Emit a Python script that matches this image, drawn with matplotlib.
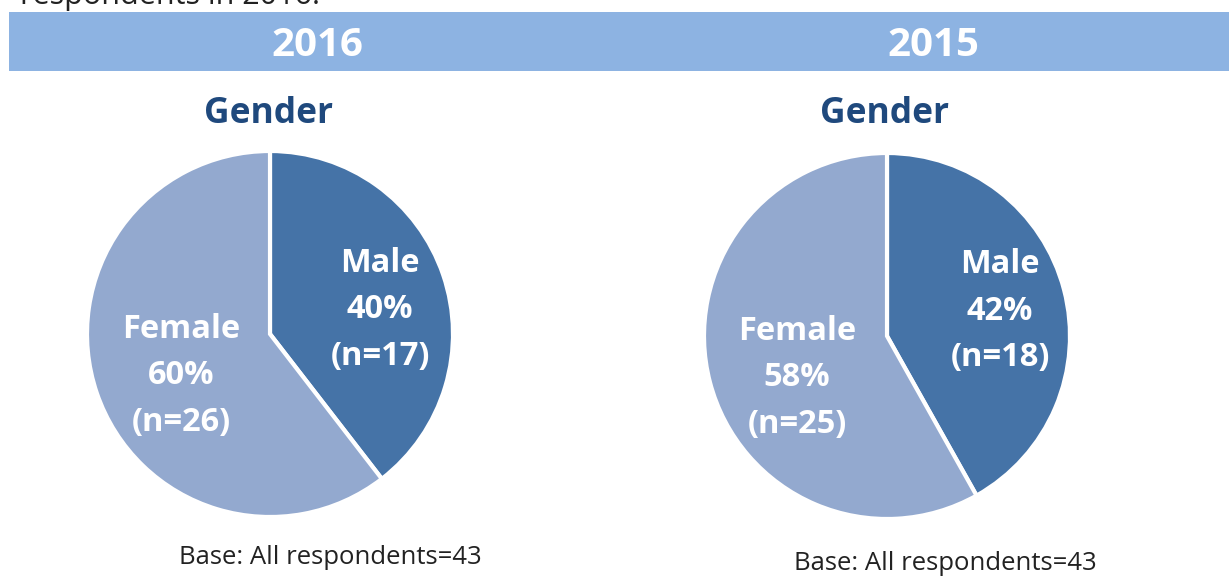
"""Gender split of respondents, 2016 vs 2015 — two pies under a year banner."""

import matplotlib

matplotlib.use("Agg")
import matplotlib.pyplot as plt
from matplotlib.patches import Rectangle

plt.rcParams["font.family"] = ["Open Sans", "DejaVu Sans"]

years = ["2016", "2015"]
genders = ["Male", "Female"]
counts_2016 = [17, 26]
counts_2015 = [18, 25]
pcts_2016 = [40, 60]
pcts_2015 = [42, 58]
base_n = [43, 43]

W, H = 1229, 576
MALE_C = "#4573a7"
FEMALE_C = "#93a9cf"
BANNER_C = "#8db3e2"
TITLE_C = "#1f497d"

fig = plt.figure(figsize=(W / 100, H / 100), dpi=100)
ax = fig.add_axes([0, 0, 1, 1])


def y(px):
    # pixel row (from top) -> data y
    return H - px


ax.text(20, y(4), "respondents in 2016.", fontsize=22, color="#222222",
        ha="left", va="baseline")
ax.add_patch(Rectangle((9, y(71)), W - 9, 59, color=BANNER_C, lw=0))

panels = [
    # year, counts, pcts, pie centre, banner x, title x, male label, female label, base label
    (years[0], counts_2016, pcts_2016, (270, 334), 317, 269, (380, 310), (181, 376), (330, 558), base_n[0]),
    (years[1], counts_2015, pcts_2015, (887, 336), 933, 884, (1000, 311), (797, 378), (945, 563), base_n[1]),
]

for year, counts, pcts, (cx, cy), bx, tx, mlab, flab, blab, n in panels:
    ax.text(bx, y(45), year, fontsize=29,
            fontweight="bold", color="white", ha="center", va="center")
    ax.text(tx, y(114), "Gender", fontsize=25.5,
            fontweight="bold", color=TITLE_C, ha="center", va="center")
    ax.pie(counts, colors=[MALE_C, FEMALE_C], startangle=90, counterclock=False,
           center=(cx, y(cy)), radius=183, frame=True,
           wedgeprops=dict(edgecolor="white", linewidth=3))
    for (lx, ly), g, p, c in zip([mlab, flab], genders, pcts, counts):
        ax.text(lx, y(ly), f"{g}\n{p}%\n(n={c})", fontsize=23.5, fontweight="bold",
                color="white", ha="center", va="center", linespacing=1.55)
    ax.text(blab[0], y(blab[1]), f"Base: All respondents={n}", fontsize=18.5,
            color="#222222", ha="center", va="center")

ax.set_xlim(0, W)
ax.set_ylim(0, H)
ax.set_aspect("auto")
ax.axis("off")

fig.savefig("out.png", dpi=100)
